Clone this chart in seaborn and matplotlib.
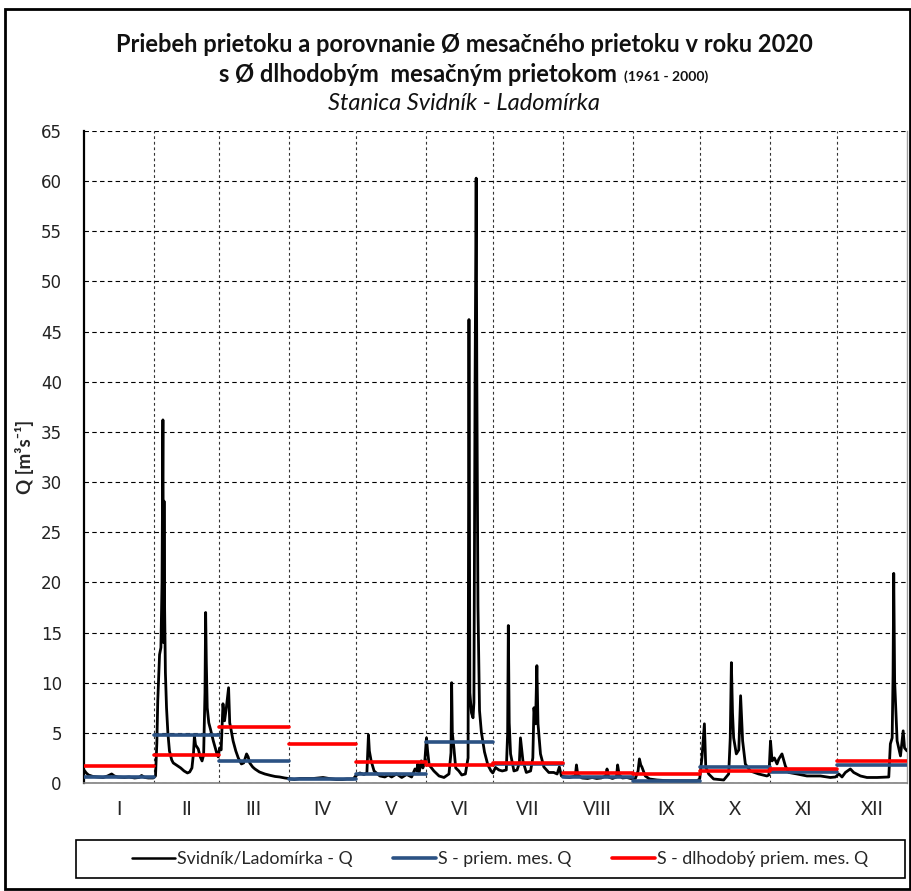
import matplotlib
matplotlib.use("Agg")
import matplotlib.pyplot as plt
import seaborn as sns
import numpy as np
import pandas as pd
from matplotlib.lines import Line2D
from matplotlib.patches import Rectangle

# ---------------- data ----------------
months = ["I", "II", "III", "IV", "V", "VI", "VII", "VIII", "IX", "X", "XI", "XII"]
month_days = [31, 29, 31, 30, 31, 30, 31, 31, 30, 31, 30, 31]
mean_2020 = [0.6, 4.83, 2.22, 0.42, 0.92, 4.1, 1.93, 0.55, 0.22, 1.6, 1.09, 1.8]
mean_longterm = [1.72, 2.78, 5.63, 3.92, 2.09, 1.82, 1.99, 0.98, 0.87, 1.2, 1.38, 2.2]

flow_day = [
    0.0, 1.0, 2.0, 4.0, 6.0, 8.5, 10.5, 12.3, 13.5, 15.0, 18.0, 20.0, 22.5, 24.5, 25.6, 27.0, 28.6, 30.8,
    31.8, 32.4, 32.8, 33.3, 33.6, 34.2, 34.7, 35.1, 35.35, 35.6, 35.85, 36.2, 36.7, 37.3, 38.0, 39.0, 39.7,
    41.0, 43.0, 44.5, 46.0, 47.0, 48.0, 48.7, 49.1, 49.6, 50.8, 51.7, 52.5, 53.2, 53.8, 54.1, 54.4, 54.8,
    55.5, 56.2, 57.5, 58.5, 59.0, 59.7, 60.3,
    61.0, 61.8, 62.5, 63.3, 64.3, 64.8, 65.5, 66.3, 67.5, 68.6, 70.0, 71.0, 72.3, 73.0, 73.7, 75.0, 76.0,
    78.0, 80.4, 83.0, 85.0, 87.0, 89.3, 91.0,
    93.5, 96.0, 99.0, 102.0, 104.0, 106.3, 109.0, 112.2, 115.0, 117.0, 119.7,
    120.8, 122.7, 124.5, 125.8, 126.5, 126.9, 127.7, 129.0, 131.6, 133.8, 135.3, 136.8, 139.0, 141.3, 143.5,
    145.7, 147.2, 148.0, 148.4, 149.0, 150.0, 150.7, 151.5,
    152.3, 152.8, 153.5, 155.6, 157.9, 160.1, 162.3, 163.2, 163.5, 163.8, 164.5, 165.3, 166.7, 168.0, 169.6,
    170.8, 171.2, 171.6, 172.3, 173.0, 173.4, 173.9, 174.4, 174.7, 175.2, 175.9, 176.7, 178.1, 179.6, 181.0, 181.8,
    183.0, 184.5, 186.0, 187.8, 188.4, 188.7, 189.1, 189.7, 191.2, 192.6, 193.6, 194.1, 195.2, 196.7, 198.6,
    199.6, 200.1, 200.8, 201.4, 201.9, 203.0, 204.5, 206.7, 208.9, 210.4, 211.4, 212.3,
    214.0, 216.0, 218.5, 219.0, 219.6, 221.5, 224.0, 226.0, 228.0, 230.0, 232.0, 232.6, 233.3, 235.0, 236.8,
    237.3, 238.0, 239.5, 241.4, 243.0,
    245.2, 246.4, 247.0, 247.6, 248.1, 249.6, 251.5, 254.8, 258.0, 260.8, 265.0, 269.0, 272.6,
    273.8, 274.8, 275.3, 275.9, 276.5, 277.8, 280.0, 284.5, 286.7, 287.4, 287.9, 288.4, 288.9, 290.1, 291.2,
    292.0, 292.9, 294.1, 296.3, 300.0, 303.7,
    304.6, 305.3, 306.0, 307.0, 308.2, 309.0, 310.4, 311.9, 313.4, 317.1, 321.5, 327.5, 331.9, 334.2,
    335.7, 337.1, 338.6, 340.8, 342.3, 345.3, 348.2, 352.7, 357.9, 358.6, 359.4, 359.8, 360.1, 360.5, 361.6,
    363.1, 364.3, 364.9, 366.0,
]
flow_q = [
    1.3, 1.0, 0.8, 0.65, 0.6, 0.55, 0.7, 0.9, 0.7, 0.6, 0.55, 0.6, 0.5, 0.55, 0.75, 0.55, 0.5, 0.5,
    0.7, 4.0, 8.2, 11.0, 12.8, 13.5, 20.0, 36.2, 14.0, 28.1, 17.5, 11.0, 7.5, 5.0, 3.2, 2.3, 2.0,
    1.8, 1.5, 1.2, 1.0, 1.1, 1.5, 3.0, 4.7, 3.8, 3.4, 2.6, 2.2, 2.8, 9.0, 17.0, 12.0, 7.5,
    6.0, 5.4, 4.2, 3.4, 3.0, 2.6, 3.5,
    3.3, 7.9, 6.2, 7.5, 9.5, 6.0, 5.2, 4.2, 3.2, 2.5, 1.9, 2.0, 2.9, 2.6, 2.0, 1.6, 1.4,
    1.1, 0.9, 0.75, 0.65, 0.6, 0.5, 0.45,
    0.35, 0.45, 0.45, 0.45, 0.5, 0.55, 0.45, 0.35, 0.35, 0.4, 0.4,
    0.7, 1.0, 0.85, 1.0, 4.8, 3.2, 2.2, 1.2, 0.7, 0.6, 0.8, 0.6, 0.9, 0.55, 0.85,
    0.6, 1.4, 1.2, 1.9, 1.0, 2.2, 1.5, 2.0,
    4.5, 3.2, 1.8, 1.2, 0.7, 0.55, 0.9, 3.0, 10.0, 5.0, 3.5, 1.5, 1.2, 0.8, 0.9,
    2.5, 46.2, 9.0, 7.0, 6.5, 8.0, 39.3, 60.3, 40.0, 17.6, 7.2, 5.1, 3.1, 1.8, 1.2, 1.0,
    1.55, 1.3, 1.2, 1.3, 5.0, 15.7, 6.0, 2.9, 1.2, 1.3, 2.0, 4.5, 2.2, 1.05, 1.2,
    2.5, 7.5, 5.9, 11.7, 5.9, 2.9, 1.6, 1.05, 1.05, 0.9, 1.6, 0.7,
    0.6, 0.55, 0.7, 1.8, 0.8, 0.5, 0.45, 0.55, 0.45, 0.5, 0.7, 1.4, 0.6, 0.45, 0.6,
    1.8, 0.8, 0.5, 0.55, 0.45,
    0.45, 1.2, 2.4, 1.8, 1.6, 0.7, 0.4, 0.3, 0.25, 0.23, 0.22, 0.22, 0.22,
    0.4, 2.5, 4.0, 5.9, 1.6, 0.9, 0.4, 0.3, 0.9, 4.5, 12.0, 7.0, 4.5, 2.9, 3.3,
    8.7, 4.2, 1.9, 1.2, 0.9, 0.7,
    0.8, 4.2, 2.2, 2.5, 1.9, 2.4, 2.9, 1.7, 1.05, 0.9, 0.7, 0.7, 0.55, 0.6,
    0.9, 0.6, 1.05, 1.4, 1.05, 0.7, 0.55, 0.55, 0.6, 3.9, 4.5, 10.8, 20.9, 10.2, 4.2,
    2.7, 5.2, 3.5, 3.2,
]

# ---------------- style ----------------
sns.set_theme(style="white")
plt.rcParams["font.family"] = ["Lato", "DejaVu Sans"]

W, H = 912, 891
fig = plt.figure(figsize=(W / 100, H / 100), dpi=100)
fig.patch.set_facecolor("white")

x0, x1, ytop, ybot = 84, 907, 131, 783
ax = fig.add_axes([x0 / W, 1 - ybot / H, (x1 - x0) / W, (ybot - ytop) / H])
ax.set_facecolor("white")

bounds = np.concatenate([[0], np.cumsum(month_days)])
centers = (bounds[:-1] + bounds[1:]) / 2

BLUE = "#2B5284"
RED = "#FF0000"

rows_b, rows_r = [], []
for i in range(12):
    for xx in (bounds[i], bounds[i + 1]):
        rows_b.append({"x": xx, "y": mean_2020[i], "m": i})
        rows_r.append({"x": xx, "y": mean_longterm[i], "m": i})
df_b = pd.DataFrame(rows_b)
df_r = pd.DataFrame(rows_r)
df_flow = pd.DataFrame({"day": flow_day, "Q": flow_q})

sns.lineplot(data=df_flow, x="day", y="Q", color="black", lw=2.0, estimator=None,
             sort=False, ax=ax, legend=False, zorder=3)
sns.lineplot(data=df_b, x="x", y="y", units="m", estimator=None, color=BLUE, lw=2.6,
             ax=ax, legend=False, zorder=4)
sns.lineplot(data=df_r, x="x", y="y", units="m", estimator=None, color=RED, lw=2.6,
             ax=ax, legend=False, zorder=5)

ax.set_xlim(0, 366)
ax.set_ylim(0, 65)
ax.set_yticks(np.arange(0, 66, 5))
ax.set_xticks(bounds[1:-1])
ax.set_xticklabels([])
ax.set_xticks(centers, minor=True)
ax.set_xticklabels(months, minor=True, fontsize=13.5)
ax.tick_params(axis="x", which="both", length=0, pad=13)
ax.tick_params(axis="y", which="major", length=5, width=1, direction="out", color="black",
               labelsize=12, pad=11)
for lab in ax.get_yticklabels():
    lab.set_fontfamily("DejaVu Sans")
    lab.set_color("#222222")

ax.yaxis.grid(True, ls=(0, (4, 3)), color="black", lw=0.8)
ax.xaxis.grid(True, which="major", ls=(0, (2.5, 2.5)), color="#333333", lw=0.8)
ax.set_axisbelow(True)

ax.set_xlabel("")
ax.set_ylabel("Q [m³s⁻¹]", fontsize=13.5, fontweight="bold", labelpad=5,
              family=["Lato", "DejaVu Sans"])

ax.spines["top"].set_visible(False)
ax.spines["left"].set_color("black")
ax.spines["left"].set_linewidth(1.6)
ax.spines["bottom"].set_color("#808080")
ax.spines["bottom"].set_linewidth(1.2)
ax.spines["right"].set_color("#A0A0A0")
ax.spines["right"].set_linewidth(1.0)

# ---------------- titles ----------------
cx = 464 / W
fig.text(cx, 1 - 45 / H, "Priebeh prietoku a porovnanie Ø mesačného prietoku v roku 2020",
         ha="center", va="center", fontsize=17, fontweight="bold", color="#111111")
fig.text(cx, 1 - 104 / H, "Stanica Svidník - Ladomírka", ha="center", va="center",
         fontsize=17, fontstyle="italic", color="#111111")
t_main = fig.text(0, 1 - 75 / H, "s Ø dlhodobým  mesačným prietokom", ha="left", va="center",
                  fontsize=17, fontweight="bold", color="#111111")
t_small = fig.text(0, 1 - 77 / H, "(1961 - 2000)", ha="left", va="center",
                   fontsize=10, fontweight="bold", color="#111111")
fig.canvas.draw()
r = fig.canvas.get_renderer()
w1 = t_main.get_window_extent(r).width / W
w2 = t_small.get_window_extent(r).width / W
gap = 7 / W
start = cx - (w1 + gap + w2) / 2
t_main.set_x(start)
t_small.set_x(start + w1 + gap)

# ---------------- legend ----------------
handles = [Line2D([], [], color="black", lw=1.8),
           Line2D([], [], color=BLUE, lw=2.6),
           Line2D([], [], color=RED, lw=2.6)]
labels = ["Svidník/Ladomírka - Q", "S - priem. mes. Q", "S - dlhodobý priem. mes. Q"]
fig.patches.append(Rectangle((76 / W, 1 - 878 / H), (905 - 76) / W, 38 / H,
                             transform=fig.transFigure, fill=False, edgecolor="black", lw=1.2))
fig.legend(handles, labels, loc="center", bbox_to_anchor=(500 / W, 1 - 859 / H), ncol=3,
           frameon=False, fontsize=12.8, handlelength=2.4, handletextpad=0.1, columnspacing=2.3)

# outer border
fig.patches.append(Rectangle((5 / W, 2 / H), (905) / W, (880) / H, transform=fig.transFigure,
                             fill=False, edgecolor="black", lw=2))

fig.savefig("out.png", dpi=100)
